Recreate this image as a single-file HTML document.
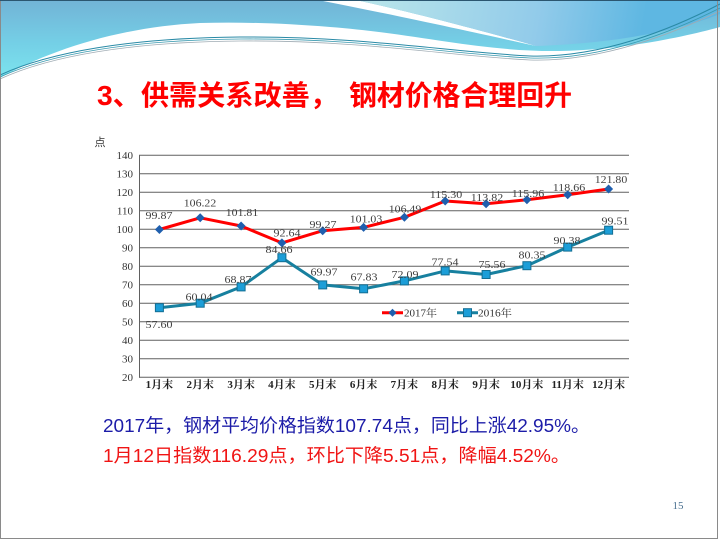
<!DOCTYPE html>
<html><head><meta charset="utf-8"><style>
html,body{margin:0;padding:0;background:#fff;}
svg{display:block;}
.tk{font-family:"Liberation Serif","Noto Serif CJK SC",serif;font-size:11px;fill:#333;}
.dl{font-family:"Liberation Serif","Noto Serif CJK SC",serif;font-size:11px;fill:#404040;}
.xl{font-family:"Liberation Serif","Noto Serif CJK SC",serif;font-size:11px;font-weight:bold;fill:#222;}
</style></head><body>
<svg width="720" height="540" viewBox="0 0 720 540" xmlns="http://www.w3.org/2000/svg">
<defs>
<linearGradient id="gL" gradientUnits="userSpaceOnUse" x1="0" y1="0" x2="0" y2="78">
<stop offset="0" stop-color="#72b3d6"/><stop offset="0.55" stop-color="#74cfe6"/><stop offset="1" stop-color="#7ce4ee"/>
</linearGradient>
<linearGradient id="gR" gradientUnits="userSpaceOnUse" x1="380" y1="0" x2="640" y2="45">
<stop offset="0" stop-color="#b6e3ea"/><stop offset="0.6" stop-color="#92cbea"/><stop offset="1" stop-color="#5eb7e2"/>
</linearGradient>
</defs>
<rect width="720" height="540" fill="#fff"/>
<!-- header wave -->
<path d="M0,0 H720 V27 C680,38 620,50 560,51 C480,52 420,34 330,27 C280,23 240,22 200,23 C120,27 50,50 0,78 Z" fill="url(#gL)"/>
<path d="M318,0 L356,0 C420,14 490,33 536,46 C490,36 410,18 318,0 Z" fill="#ffffff"/>
<path d="M356,0 H720 V14 C680,30 620,43 536,46 C490,33 420,14 356,0 Z" fill="url(#gR)"/>
<path d="M0,75 C50,52 130,38 240,37 C360,36 450,52 530,56 C600,58 670,30 720,4" fill="none" stroke="#2a8aa6" stroke-width="1"/>
<path d="M0,77 C50,54 130,40 240,39 C360,38 450,54 530,58 C600,60 670,33 720,8" fill="none" stroke="#3a9ab0" stroke-width="0.8"/>
<path d="M0,79 C50,56 130,42 240,41 C360,40 450,56 530,60 C600,62 670,35 720,11" fill="none" stroke="#a0acb4" stroke-width="0.8"/>
<rect x="0.5" y="0.5" width="717" height="538" fill="none" stroke="#8a8a8a" stroke-width="1"/>
<line x1="0" y1="0.5" x2="720" y2="0.5" stroke="#2b5670" stroke-width="1"/>

<!-- title -->
<text x="97" y="105" font-family="'Liberation Sans','Noto Sans CJK SC',sans-serif" font-size="28" font-weight="bold" fill="#ff0000" textLength="241" lengthAdjust="spacingAndGlyphs">3、供需关系改善，</text>
<text x="349" y="105" font-family="'Liberation Sans','Noto Sans CJK SC',sans-serif" font-size="28" font-weight="bold" fill="#ff0000" textLength="223" lengthAdjust="spacingAndGlyphs">钢材价格合理回升</text>

<!-- axis unit -->
<text x="100" y="146" text-anchor="middle" font-family="'Noto Sans CJK SC',sans-serif" font-size="11" fill="#333">点</text>

<!-- gridlines -->
<g stroke="#606060" stroke-width="1">
<line x1="139" y1="155.3" x2="629" y2="155.3"/>
<line x1="139" y1="173.8" x2="629" y2="173.8"/>
<line x1="139" y1="192.3" x2="629" y2="192.3"/>
<line x1="139" y1="210.8" x2="629" y2="210.8"/>
<line x1="139" y1="229.3" x2="629" y2="229.3"/>
<line x1="139" y1="247.8" x2="629" y2="247.8"/>
<line x1="139" y1="266.3" x2="629" y2="266.3"/>
<line x1="139" y1="284.8" x2="629" y2="284.8"/>
<line x1="139" y1="303.3" x2="629" y2="303.3"/>
<line x1="139" y1="321.8" x2="629" y2="321.8"/>
<line x1="139" y1="340.3" x2="629" y2="340.3"/>
<line x1="139" y1="358.8" x2="629" y2="358.8"/>
<line x1="139" y1="377.3" x2="629" y2="377.3"/>
<line x1="139.5" y1="155" x2="139.5" y2="377.8"/>
</g>

<!-- y tick labels -->
<g class="tk" text-anchor="end">
<text x="133" y="159.1">140</text>
<text x="133" y="177.6">130</text>
<text x="133" y="196.1">120</text>
<text x="133" y="214.6">110</text>
<text x="133" y="233.1">100</text>
<text x="133" y="251.6">90</text>
<text x="133" y="270.1">80</text>
<text x="133" y="288.6">70</text>
<text x="133" y="307.1">60</text>
<text x="133" y="325.6">50</text>
<text x="133" y="344.1">40</text>
<text x="133" y="362.6">30</text>
<text x="133" y="381.1">20</text>
</g>

<!-- x labels -->
<g class="xl" text-anchor="middle">
<text x="159.4" y="388">1月末</text>
<text x="200.2" y="388">2月末</text>
<text x="241.1" y="388">3月末</text>
<text x="281.9" y="388">4月末</text>
<text x="322.7" y="388">5月末</text>
<text x="363.6" y="388">6月末</text>
<text x="404.4" y="388">7月末</text>
<text x="445.2" y="388">8月末</text>
<text x="486.1" y="388">9月末</text>
<text x="526.9" y="388">10月末</text>
<text x="567.7" y="388">11月末</text>
<text x="608.6" y="388">12月末</text>
</g>

<!-- 2016 series -->
<polyline fill="none" stroke="#17809f" stroke-width="3" stroke-linejoin="round" points="159.4,307.7 200.2,303.2 241.1,286.9 281.9,257.7 322.7,284.9 363.6,288.8 404.4,280.9 445.2,270.9 486.1,274.5 526.9,265.7 567.7,247.1 608.6,230.2"/>
<g fill="#1c9ed8" stroke="#136e93" stroke-width="1">
<rect x="155.4" y="303.7" width="8" height="8"/>
<rect x="196.2" y="299.2" width="8" height="8"/>
<rect x="237.1" y="282.9" width="8" height="8"/>
<rect x="277.9" y="253.7" width="8" height="8"/>
<rect x="318.7" y="280.9" width="8" height="8"/>
<rect x="359.6" y="284.8" width="8" height="8"/>
<rect x="400.4" y="276.9" width="8" height="8"/>
<rect x="441.2" y="266.9" width="8" height="8"/>
<rect x="482.1" y="270.5" width="8" height="8"/>
<rect x="522.9" y="261.7" width="8" height="8"/>
<rect x="563.7" y="243.1" width="8" height="8"/>
<rect x="604.6" y="226.2" width="8" height="8"/>
</g>

<!-- 2017 series -->
<polyline fill="none" stroke="#ff0000" stroke-width="3" stroke-linejoin="round" points="159.4,229.5 200.2,217.8 241.1,226.0 281.9,242.9 322.7,230.7 363.6,227.4 404.4,217.3 445.2,201.0 486.1,203.7 526.9,199.8 567.7,194.8 608.6,189.0"/>
<g fill="#1f5fae">
<polygon points="159.4,225 163.9,229.5 159.4,234 154.9,229.5"/>
<polygon points="200.2,213.3 204.7,217.8 200.2,222.3 195.7,217.8"/>
<polygon points="241.1,221.5 245.6,226 241.1,230.5 236.6,226"/>
<polygon points="281.9,238.4 286.4,242.9 281.9,247.4 277.4,242.9"/>
<polygon points="322.7,226.2 327.2,230.7 322.7,235.2 318.2,230.7"/>
<polygon points="363.6,222.9 368.1,227.4 363.6,231.9 359.1,227.4"/>
<polygon points="404.4,212.8 408.9,217.3 404.4,221.8 399.9,217.3"/>
<polygon points="445.2,196.5 449.7,201 445.2,205.5 440.7,201"/>
<polygon points="486.1,199.2 490.6,203.7 486.1,208.2 481.6,203.7"/>
<polygon points="526.9,195.3 531.4,199.8 526.9,204.3 522.4,199.8"/>
<polygon points="567.7,190.3 572.2,194.8 567.7,199.3 563.2,194.8"/>
<polygon points="608.6,184.5 613.1,189 608.6,193.5 604.1,189"/>
</g>

<!-- data labels 2017 -->
<g class="dl" text-anchor="middle">
<text x="159" y="218.8" textLength="27" lengthAdjust="spacingAndGlyphs">99.87</text>
<text x="200" y="206.3" textLength="32.5" lengthAdjust="spacingAndGlyphs">106.22</text>
<text x="242" y="215.8" textLength="32.5" lengthAdjust="spacingAndGlyphs">101.81</text>
<text x="287" y="236.3" textLength="27" lengthAdjust="spacingAndGlyphs">92.64</text>
<text x="323" y="227.8" textLength="27" lengthAdjust="spacingAndGlyphs">99.27</text>
<text x="366" y="222.3" textLength="32.5" lengthAdjust="spacingAndGlyphs">101.03</text>
<text x="405" y="212.3" textLength="32.5" lengthAdjust="spacingAndGlyphs">106.49</text>
<text x="446" y="197.8" textLength="32.5" lengthAdjust="spacingAndGlyphs">115.30</text>
<text x="487" y="200.8" textLength="32.5" lengthAdjust="spacingAndGlyphs">113.82</text>
<text x="528" y="196.8" textLength="32.5" lengthAdjust="spacingAndGlyphs">115.96</text>
<text x="569" y="190.8" textLength="32.5" lengthAdjust="spacingAndGlyphs">118.66</text>
<text x="611" y="182.8" textLength="32.5" lengthAdjust="spacingAndGlyphs">121.80</text>
</g>
<!-- data labels 2016 -->
<g class="dl" text-anchor="middle">
<text x="159" y="327.8" textLength="27" lengthAdjust="spacingAndGlyphs">57.60</text>
<text x="199" y="300.3" textLength="27" lengthAdjust="spacingAndGlyphs">60.04</text>
<text x="238" y="282.8" textLength="27" lengthAdjust="spacingAndGlyphs">68.87</text>
<text x="279" y="252.8" textLength="27" lengthAdjust="spacingAndGlyphs">84.66</text>
<text x="324" y="275.3" textLength="27" lengthAdjust="spacingAndGlyphs">69.97</text>
<text x="364" y="280.3" textLength="27" lengthAdjust="spacingAndGlyphs">67.83</text>
<text x="405" y="277.8" textLength="27" lengthAdjust="spacingAndGlyphs">72.09</text>
<text x="445" y="265.3" textLength="27" lengthAdjust="spacingAndGlyphs">77.54</text>
<text x="492" y="267.8" textLength="27" lengthAdjust="spacingAndGlyphs">75.56</text>
<text x="532" y="258.3" textLength="27" lengthAdjust="spacingAndGlyphs">80.35</text>
<text x="567" y="243.8" textLength="27" lengthAdjust="spacingAndGlyphs">90.38</text>
<text x="615" y="224.3" textLength="27" lengthAdjust="spacingAndGlyphs">99.51</text>
</g>

<!-- legend -->
<line x1="382" y1="312.7" x2="403" y2="312.7" stroke="#ff0000" stroke-width="3"/>
<polygon points="392.5,308.7 396.5,312.7 392.5,316.7 388.5,312.7" fill="#1f5fae"/>
<text x="404" y="316.5" font-family="'Liberation Serif','Noto Serif CJK SC',serif" font-size="10.5" fill="#333" textLength="33" lengthAdjust="spacingAndGlyphs">2017年</text>
<line x1="457" y1="312.7" x2="478" y2="312.7" stroke="#17809f" stroke-width="3"/>
<rect x="463.5" y="308.7" width="8" height="8" fill="#1c9ed8" stroke="#136e93" stroke-width="1"/>
<text x="478" y="316.5" font-family="'Liberation Serif','Noto Serif CJK SC',serif" font-size="10.5" fill="#333" textLength="34" lengthAdjust="spacingAndGlyphs">2016年</text>

<!-- bottom text -->
<text x="103" y="432" font-family="'Liberation Sans','Noto Sans CJK SC',sans-serif" font-size="18.5" fill="#1c1ca8" textLength="487" lengthAdjust="spacingAndGlyphs">2017年，钢材平均价格指数107.74点，同比上涨42.95%。</text>
<text x="103" y="462" font-family="'Liberation Sans','Noto Sans CJK SC',sans-serif" font-size="18.5" fill="#f01414" textLength="467" lengthAdjust="spacingAndGlyphs">1月12日指数116.29点，环比下降5.51点，降幅4.52%。</text>

<!-- slide number -->
<text x="678" y="509" text-anchor="middle" font-family="'Liberation Serif',serif" font-size="11" fill="#4a7090">15</text>
</svg>
</body></html>
